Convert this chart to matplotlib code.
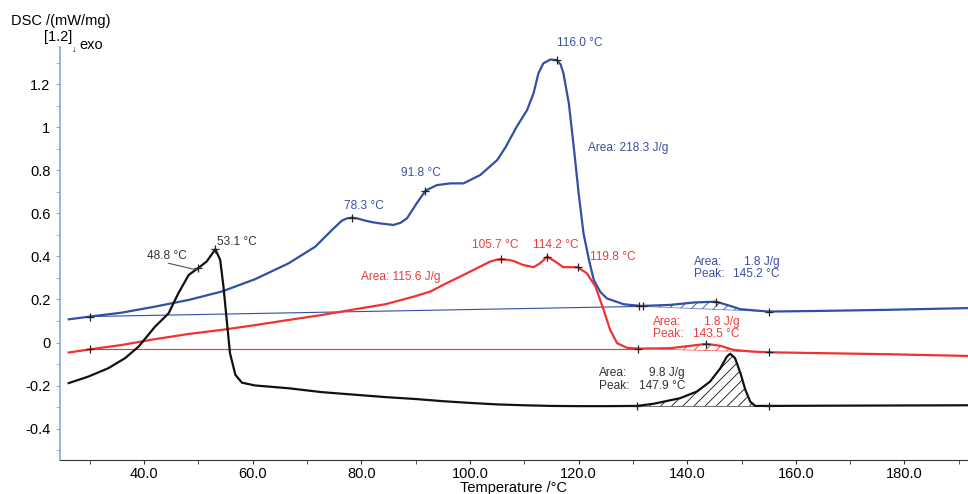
import matplotlib
matplotlib.use("Agg")
import matplotlib.pyplot as plt
from matplotlib.ticker import MultipleLocator, FuncFormatter

plt.rcParams['font.family'] = ['Liberation Sans', 'DejaVu Sans']
plt.rcParams['axes.unicode_minus'] = False
plt.rcParams['hatch.linewidth'] = 0.6

# curvas DSC (temperatura en °C, señal en mW/mg)
t_blue = [26.1, 30.1, 35.9, 42.0, 48.2, 54.3, 60.4, 66.6, 71.5, 74.6, 76.4, 77.4, 78.3,
          79.3, 80.7, 82.2, 83.5, 85.9, 87.2, 88.4, 90.2, 91.8, 93.9, 96.4, 98.8, 101.9,
          105.0, 106.5, 108.6, 110.5, 111.7, 112.6, 113.5, 114.8, 116.0, 116.7, 117.2,
          118.2, 119.1, 120.0, 120.9, 121.9, 122.8, 124.0, 125.2, 128.3, 131.5, 136.9,
          141.2, 145.3, 147.3, 149.8, 155.0, 164.5, 176.8, 191.5]
dsc_blue = [0.108, 0.121, 0.139, 0.167, 0.198, 0.237, 0.294, 0.368, 0.445, 0.523, 0.566,
            0.577, 0.580, 0.576, 0.566, 0.558, 0.553, 0.546, 0.556, 0.577, 0.647, 0.705,
            0.731, 0.739, 0.739, 0.778, 0.847, 0.905, 1.002, 1.079, 1.157, 1.250, 1.296,
            1.314, 1.311, 1.290, 1.250, 1.110, 0.909, 0.693, 0.507, 0.384, 0.290, 0.235,
            0.205, 0.178, 0.170, 0.175, 0.186, 0.190, 0.175, 0.155, 0.144, 0.147, 0.152,
            0.160]

t_red = [26.1, 30.1, 35.9, 42.0, 48.2, 54.3, 60.4, 66.6, 72.7, 78.9, 84.4, 89.6, 92.7,
         95.7, 98.8, 101.9, 103.7, 104.8, 105.7, 107.0, 108.0, 109.8, 111.7, 112.9, 114.2,
         115.7, 117.2, 119.8, 121.5, 123.1, 124.6, 125.8, 127.1, 128.9, 131.0, 136.9,
         140.6, 143.5, 146.1, 148.5, 152.2, 155.0, 164.5, 176.8, 191.5]
dsc_red = [-0.046, -0.031, -0.011, 0.016, 0.040, 0.059, 0.081, 0.105, 0.128, 0.155, 0.178,
           0.213, 0.237, 0.276, 0.314, 0.353, 0.376, 0.384, 0.387, 0.384, 0.379, 0.360,
           0.350, 0.368, 0.399, 0.376, 0.350, 0.350, 0.322, 0.260, 0.152, 0.059, -0.003,
           -0.024, -0.028, -0.026, -0.015, -0.006, -0.015, -0.034, -0.042, -0.045, -0.049,
           -0.054, -0.062]

t_black = [26.1, 29.7, 33.4, 36.5, 39.0, 42.0, 44.5, 46.3, 48.2, 49.9, 51.5, 53.1, 54.0,
           54.6, 55.2, 55.8, 56.8, 58.0, 60.4, 66.6, 72.7, 84.4, 90.0, 95.0, 100.0, 105.0,
           110.0, 115.0, 120.0, 125.0, 130.7, 133.8, 138.7, 141.8, 144.2, 146.1, 147.3,
           147.9, 148.8, 149.8, 150.7, 151.6, 152.5, 155.0, 165.0, 178.0, 191.5]
dsc_black = [-0.188, -0.158, -0.119, -0.072, -0.018, 0.074, 0.136, 0.229, 0.314, 0.345,
             0.376, 0.433, 0.384, 0.260, 0.105, -0.049, -0.150, -0.186, -0.199, -0.212,
             -0.230, -0.253, -0.262, -0.272, -0.280, -0.287, -0.291, -0.294, -0.295, -0.295,
             -0.294, -0.284, -0.258, -0.227, -0.181, -0.119, -0.065, -0.052, -0.072, -0.142,
             -0.219, -0.274, -0.294, -0.294, -0.293, -0.292, -0.291]

# lineas base (inicio, fin)
base_blue_t, base_blue_v = [30.1, 131.5], [0.121, 0.168]
base_red_t, base_red_v = [30.1, 131.0], [-0.031, -0.031]
# picos pequeños integrados (inicio, fin de linea base)
peak_blue_t, peak_blue_v = [131.5, 155.0], [0.168, 0.144]
peak_red_t, peak_red_v = [131.0, 155.0], [-0.028, -0.045]
peak_black_t, peak_black_v = [130.7, 155.0], [-0.294, -0.294]

# marcas "+"
mk_blue_t = [30.1, 78.3, 91.8, 116.0, 131.2, 131.9, 145.3, 155.0]
mk_blue_v = [0.121, 0.580, 0.705, 1.311, 0.170, 0.170, 0.190, 0.144]
mk_red_t = [30.1, 105.7, 114.2, 119.8, 131.0, 143.5, 155.0]
mk_red_v = [-0.031, 0.387, 0.399, 0.350, -0.028, -0.006, -0.045]
mk_black_t = [49.9, 53.1, 130.7, 155.0]
mk_black_v = [0.345, 0.433, -0.294, -0.294]

BLUE = '#3150a3'
RED = '#f03232'
BLACK = '#111111'
TBLUE = '#3a4f9e'
TRED = '#ee3b3b'
TBLACK = '#333333'

fig = plt.figure(figsize=(9.68, 4.94), dpi=100)
ax = fig.add_axes([60 / 968, 34 / 494, 908 / 968, 413 / 494])

# lineas base finas
ax.plot(base_blue_t, base_blue_v, color=BLUE, lw=0.8)
ax.plot(base_red_t, base_red_v, color=RED, lw=0.8)

# areas rayadas
for t, v, bt, bv, c in [(t_blue, dsc_blue, peak_blue_t, peak_blue_v, BLUE),
                        (t_red, dsc_red, peak_red_t, peak_red_v, RED),
                        (t_black, dsc_black, peak_black_t, peak_black_v, BLACK)]:
    sel = [(ti, vi) for ti, vi in zip(t, v) if bt[0] <= ti <= bt[1]]
    tt = [s[0] for s in sel]
    vv = [s[1] for s in sel]
    bb = [bv[0] + (bv[1] - bv[0]) * (ti - bt[0]) / (bt[1] - bt[0]) for ti in tt]
    ax.fill_between(tt, bb, vv, where=[a >= b for a, b in zip(vv, bb)], interpolate=True,
                    facecolor='none', edgecolor=c, hatch='///', linewidth=0)
    ax.plot(bt, bv, color=c, lw=0.6, alpha=0.7)

ax.plot(t_blue, dsc_blue, color=BLUE, lw=1.6)
ax.plot(t_red, dsc_red, color=RED, lw=1.6)
ax.plot(t_black, dsc_black, color=BLACK, lw=1.6)

for mt, mv in [(mk_blue_t, mk_blue_v), (mk_red_t, mk_red_v), (mk_black_t, mk_black_v)]:
    ax.plot(mt, mv, ls='none', marker='+', ms=6, mew=0.9, color='#222222', zorder=5)

# textos
fs = 8.6
ax.text(120.3, 1.39, '116.0 °C', color=TBLUE, fontsize=fs, ha='center', va='center')
ax.text(121.8, 0.903, 'Area: 218.3 J/g', color=TBLUE, fontsize=fs, ha='left', va='center')
ax.text(80.5, 0.635, '78.3 °C', color=TBLUE, fontsize=fs, ha='center', va='center')
ax.text(91.0, 0.786, '91.8 °C', color=TBLUE, fontsize=fs, ha='center', va='center')
ax.text(104.6, 0.453, '105.7 °C', color=TRED, fontsize=fs, ha='center', va='center')
ax.text(115.8, 0.453, '114.2 °C', color=TRED, fontsize=fs, ha='center', va='center')
ax.text(122.1, 0.396, '119.8 °C', color=TRED, fontsize=fs, ha='left', va='center')
ax.text(94.6, 0.306, 'Area: 115.6 J/g', color=TRED, fontsize=fs, ha='right', va='center')
ax.text(44.2, 0.402, '48.8 °C', color=TBLACK, fontsize=fs, ha='center', va='center')
ax.plot([44.5, 49.7], [0.368, 0.337], color='#555555', lw=0.8)
ax.text(53.4, 0.466, '53.1 °C', color=TBLACK, fontsize=fs, ha='left', va='center')

ax.text(141.2, 0.347, 'Area:\nPeak:', color=TBLUE, fontsize=fs, ha='left', va='center',
        linespacing=1.05)
ax.text(157.0, 0.347, '1.8 J/g\n145.2 °C', color=TBLUE, fontsize=fs, ha='right',
        va='center', linespacing=1.05, multialignment='right')
ax.text(133.7, 0.067, 'Area:\nPeak:', color=TRED, fontsize=fs, ha='left', va='center',
        linespacing=1.05)
ax.text(149.6, 0.067, '1.8 J/g\n143.5 °C', color=TRED, fontsize=fs, ha='right',
        va='center', linespacing=1.05, multialignment='right')
ax.text(123.7, -0.171, 'Area:\nPeak:', color=TBLACK, fontsize=fs, ha='left', va='center',
        linespacing=1.05)
ax.text(139.6, -0.171, '9.8 J/g\n147.9 °C', color=TBLACK, fontsize=fs, ha='right',
        va='center', linespacing=1.05, multialignment='right')

# ejes
ax.set_xlim(24.5, 191.7)
ax.set_ylim(-0.545, 1.372)
ax.xaxis.set_major_locator(MultipleLocator(20))
ax.xaxis.set_minor_locator(MultipleLocator(10))
ax.xaxis.set_major_formatter(FuncFormatter(lambda v, p: f'{v:.1f}'))
ax.yaxis.set_major_locator(MultipleLocator(0.2))
ax.yaxis.set_minor_locator(MultipleLocator(0.1))
ax.yaxis.set_major_formatter(FuncFormatter(lambda v, p: f'{round(v, 1):g}'))
ax.spines['top'].set_visible(False)
ax.spines['right'].set_visible(False)
ax.spines['left'].set_color('#8ea5d8')
ax.spines['left'].set_linewidth(1.2)
ax.spines['bottom'].set_color('#333333')
ax.tick_params(axis='y', which='both', length=3, color='#8ea5d8', labelsize=10.5, pad=4)
ax.tick_params(axis='x', which='both', length=3, color='#333333', labelsize=10.5, pad=2)
ax.set_xlabel('Temperature /°C', fontsize=10.5, labelpad=0)

fig.text(11 / 968, 1 - 21 / 494, 'DSC /(mW/mg)', fontsize=10.5, ha='left', va='center')
fig.text(44 / 968, 1 - 37 / 494, '[1.2]', fontsize=10.5, ha='left', va='center')
fig.text(72 / 968, 1 - 49 / 494, '↓', fontsize=6.5, ha='left', va='center')
fig.text(79 / 968, 1 - 45 / 494, 'exo', fontsize=10.5, ha='left', va='center')

fig.savefig('out.png', dpi=100)
